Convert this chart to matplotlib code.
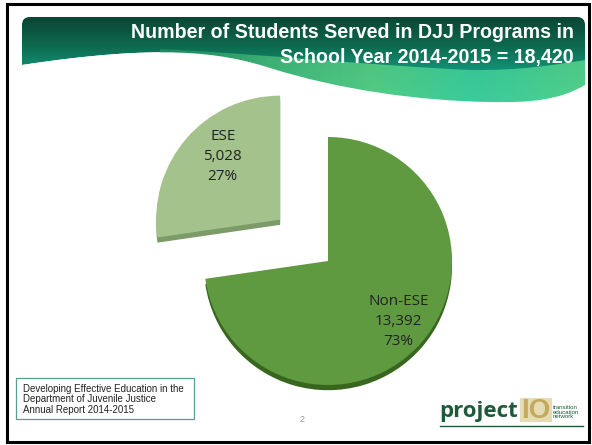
import numpy as np
import matplotlib
matplotlib.use("Agg")
import matplotlib.pyplot as plt
from matplotlib.path import Path
from matplotlib.patches import PathPatch, Rectangle
from matplotlib.colors import LinearSegmentedColormap

# data
categories = ["Non-ESE", "ESE"]
students = [13392, 5028]
shares = [73, 27]
total = 18420

title_lines = ["Number of Students Served in DJJ Programs in",
               "School Year 2014-2015 = {:,}".format(total)]
footer = "Developing Effective Education in the\nDepartment of Juvenile Justice\nAnnual Report 2014-2015"

W, H = 592, 445
fig = plt.figure(figsize=(W / 100, H / 100), dpi=100)
fig.patch.set_facecolor("white")

# background axes, pixel coords (y down)
bg = fig.add_axes([0, 0, 1, 1])
bg.set_xlim(0, W)
bg.set_ylim(H, 0)
bg.axis("off")

bg.add_patch(Rectangle((7, 4), 582, 438, fill=False, ec="black", lw=2.2, zorder=10))

# ---- header band with wavy bottom ----
P = Path
bottom_v = [(560, 100), (530, 103), (490, 102),
            (420, 101), (340, 90), (270, 68),
            (220, 52), (160, 44), (22, 65)]
bottom_c = [P.CURVE4] * 9
verts = [(22, 65), (22, 25), (22, 17), (30, 17), (577, 17), (585, 17), (585, 25), (585, 85)] + bottom_v
codes = [P.MOVETO, P.LINETO, P.CURVE3, P.CURVE3, P.LINETO, P.CURVE3, P.CURVE3, P.LINETO] + bottom_c
band = PathPatch(Path(verts, codes), fc="none", ec="none")
bg.add_patch(band)

grad = np.linspace(0, 1, 100).reshape(-1, 1)
cm_head = LinearSegmentedColormap.from_list("head", ["#0a4634", "#0d6a4f", "#139c80", "#1fc2a0"])
im = bg.imshow(grad, cmap=cm_head, extent=(22, 585, 105, 17), aspect="auto", zorder=1)
im.set_clip_path(band)

# lighter swoosh in the lower part of the band
v2 = [(160, 49), (260, 54), (380, 66), (470, 70), (520, 71), (560, 64), (585, 60),
      (585, 120), (160, 120), (160, 49)]
c2 = [P.MOVETO, P.CURVE4, P.CURVE4, P.CURVE4, P.CURVE4, P.CURVE4, P.CURVE4,
      P.LINETO, P.LINETO, P.CLOSEPOLY]
swoosh = PathPatch(Path(v2, c2), fc="none", ec="none")
bg.add_patch(swoosh)
gx = np.linspace(0, 1, 100).reshape(1, -1)
cm_sw = LinearSegmentedColormap.from_list("sw", ["#1f8c60", "#45b877", "#5ccf82", "#3fcf9c", "#5ad48a"])
im2 = bg.imshow(gx, cmap=cm_sw, extent=(160, 585, 120, 45), aspect="auto", zorder=2, alpha=0.85)
im2.set_clip_path(swoosh)

# white area under the band's wavy edge
cover_v = [(585, 85)] + bottom_v + [(22, 130), (585, 130), (585, 85)]
cover_c = [P.MOVETO] + bottom_c + [P.LINETO, P.LINETO, P.CLOSEPOLY]
bg.add_patch(PathPatch(Path(cover_v, cover_c), fc="white", ec="none", zorder=3))

for y, line in zip([32, 57], title_lines):
    bg.text(574, y, line, ha="right", va="center", color="white", fontsize=14.1,
            fontweight="bold", family="Liberation Sans", zorder=5)

# ---- footer ----
bg.add_patch(Rectangle((16, 378), 178, 41, fc="white", ec="#5a9e92", lw=0.9))
bg.text(23, 399.5, footer, ha="left", va="center", fontsize=7.0, family="Liberation Sans",
        color="#222222", linespacing=1.08)
bg.text(302, 419, "2", ha="center", va="center", fontsize=6.5, color="#9a9a9a", family="Liberation Sans")

# logo
bg.text(439, 417, "project", ha="left", va="baseline", fontsize=16, color="#1d5a38",
        family="Open Sans", fontweight="bold")
bg.plot([440, 583], [426, 426], color="#1d5a38", lw=1.0)
bg.add_patch(Rectangle((520, 398), 32, 24, fc="#e6dcb4", ec="none"))
bg.text(536, 410.5, "IO", ha="center", va="center", fontsize=20, color="#c4aa5e",
        family="Liberation Sans", fontweight="bold")
bg.text(553, 412, "transition\neducation\nnetwork", ha="left", va="center", fontsize=4.4,
        color="#1d5a38", family="Liberation Sans", linespacing=0.95)

# ---- pie ----
cx, cy, r = 328, 261, 124
lim = 1.6
half = lim * r
ax = fig.add_axes([(cx - half) / W, (H - cy - half) / H, 2 * half / W, 2 * half / H])
top_cols = ["#5f9a41", "#a4c28c"]
side_cols = ["#38661f", "#7c9b69"]
explode = [0, 0.51]
label_r = [0.75, 0.69]
label_turn = [0, -7]

ax.pie(students, colors=side_cols, explode=explode, startangle=90, counterclock=False,
       center=(0, -0.042), wedgeprops=dict(linewidth=0))
wedges, texts = ax.pie(students, colors=top_cols, explode=explode, startangle=90,
                       counterclock=False,
                       labels=[f"{c}\n{v:,}\n{p}%" for c, v, p in zip(categories, students, shares)],
                       wedgeprops=dict(linewidth=0),
                       textprops=dict(fontsize=11, family="Open Sans", color="#222222",
                                      linespacing=1.45))
for w, t, lr, turn in zip(wedges, texts, label_r, label_turn):
    mid = np.deg2rad((w.theta1 + w.theta2) / 2 + turn)
    t.set_position((w.center[0] + lr * np.cos(mid), w.center[1] + lr * np.sin(mid)))
    t.set_ha("center")
    t.set_va("center")
ax.set_xlim(-lim, lim)
ax.set_ylim(-lim, lim)
ax.set_aspect("equal")
ax.axis("off")

fig.savefig("out.png", dpi=100)
